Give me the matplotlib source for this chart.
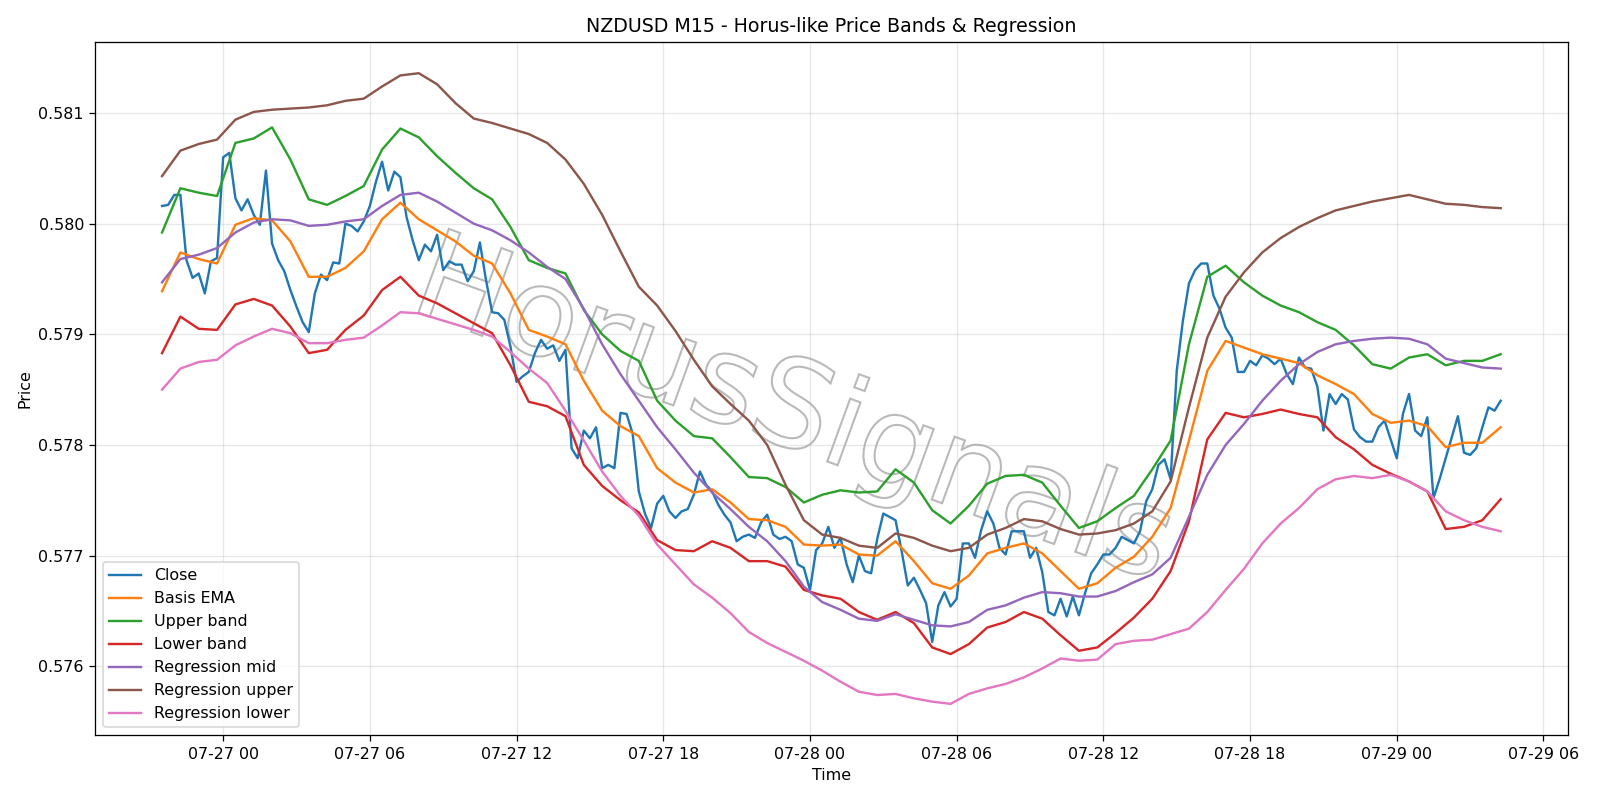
import pandas as pd
import matplotlib
matplotlib.use("Agg")
import matplotlib.pyplot as plt
import matplotlib.transforms as mtransforms
from matplotlib.textpath import TextPath
from matplotlib.patches import PathPatch
from matplotlib.font_manager import FontProperties

# NZDUSD M15 close, 2025-07-26 21:30 -> 2025-07-29 04:15
close = [
    0.58016, 0.58017, 0.58026, 0.58026, 0.57967, 0.57951, 0.57955, 0.57937, 0.57966, 0.57969,
    0.58060, 0.58064, 0.58023, 0.58012, 0.58022, 0.58008, 0.57999, 0.58048, 0.57982, 0.57967,
    0.57957, 0.57940, 0.57925, 0.57911, 0.57902, 0.57937, 0.57954, 0.57949, 0.57965, 0.57964,
    0.58000, 0.57998, 0.57993, 0.58002, 0.58016, 0.58038, 0.58056, 0.58030, 0.58047, 0.58042,
    0.58006, 0.57985, 0.57967, 0.57981, 0.57975, 0.57990, 0.57958, 0.57966, 0.57963, 0.57963,
    0.57948, 0.57957, 0.57983, 0.57949, 0.57920, 0.57919, 0.57913, 0.57889, 0.57857, 0.57862,
    0.57866, 0.57883, 0.57895, 0.57887, 0.57890, 0.57876, 0.57886, 0.57797, 0.57788, 0.57813,
    0.57806, 0.57816, 0.57779, 0.57782, 0.57779, 0.57829, 0.57828, 0.57810, 0.57758, 0.57738,
    0.57725, 0.57747, 0.57754, 0.57740, 0.57734, 0.57740, 0.57742, 0.57755, 0.57776, 0.57764,
    0.57758, 0.57746, 0.57737, 0.57730, 0.57713, 0.57717, 0.57719, 0.57716, 0.57730, 0.57737,
    0.57719, 0.57715, 0.57717, 0.57713, 0.57692, 0.57689, 0.57669, 0.57705, 0.57711, 0.57726,
    0.57707, 0.57716, 0.57692, 0.57676, 0.57700, 0.57686, 0.57684, 0.57715, 0.57738, 0.57735,
    0.57732, 0.57704, 0.57673, 0.57680, 0.57669, 0.57657, 0.57622, 0.57655, 0.57667, 0.57654,
    0.57661, 0.57711, 0.57711, 0.57698, 0.57723, 0.57740, 0.57729, 0.57707, 0.57701, 0.57722,
    0.57722, 0.57722, 0.57698, 0.57707, 0.57685, 0.57649, 0.57646, 0.57661, 0.57645, 0.57663,
    0.57646, 0.57666, 0.57684, 0.57692, 0.57701, 0.57701, 0.57707, 0.57717, 0.57714, 0.57711,
    0.57722, 0.57749, 0.57760, 0.57782, 0.57787, 0.57769, 0.57867, 0.57912, 0.57946, 0.57958,
    0.57964, 0.57964, 0.57935, 0.57923, 0.57906, 0.57897, 0.57866, 0.57866, 0.57876, 0.57872,
    0.57881, 0.57878, 0.57873, 0.57878, 0.57864, 0.57855, 0.57879, 0.57870, 0.57869, 0.57853,
    0.57813, 0.57846, 0.57837, 0.57846, 0.57841, 0.57814, 0.57807, 0.57803, 0.57803, 0.57816,
    0.57822, 0.57805, 0.57788, 0.57828, 0.57846, 0.57813, 0.57808, 0.57825, 0.57752, 0.57769,
    0.57788, 0.57807, 0.57826, 0.57793, 0.57791, 0.57797, 0.57816, 0.57834, 0.57831, 0.57840,
]

# band / regression lines, read every 3rd bar (45 min)
basis_ema = [
    0.57939, 0.57974, 0.57968, 0.57964, 0.57999, 0.58005, 0.58003, 0.57984, 0.57952, 0.57952, 0.57960,
    0.57975, 0.58004, 0.58019, 0.58004, 0.57994, 0.57984, 0.57971, 0.57964, 0.57937, 0.57904, 0.57898,
    0.57891, 0.57858, 0.57831, 0.57817, 0.57808, 0.57779, 0.57766, 0.57757, 0.57760, 0.57748,
    0.57733, 0.57732, 0.57726, 0.57710, 0.57709, 0.57710, 0.57701, 0.57700, 0.57713, 0.57695, 0.57675,
    0.57670, 0.57682, 0.57702, 0.57707, 0.57711, 0.57702, 0.57686, 0.57670, 0.57675, 0.57689, 0.57699,
    0.57717, 0.57743, 0.57804, 0.57867, 0.57894, 0.57888, 0.57882, 0.57878, 0.57874, 0.57863,
    0.57855, 0.57846, 0.57828, 0.57820, 0.57822, 0.57817, 0.57798, 0.57802, 0.57802, 0.57816,
]
upper_band = [
    0.57992, 0.58032, 0.58028, 0.58025, 0.58073, 0.58077, 0.58087, 0.58058, 0.58022, 0.58017, 0.58025,
    0.58034, 0.58067, 0.58086, 0.58078, 0.58061, 0.58046, 0.58032, 0.58022, 0.57997, 0.57967, 0.57960,
    0.57955, 0.57922, 0.57900, 0.57885, 0.57876, 0.57840, 0.57822, 0.57808, 0.57806, 0.57789,
    0.57771, 0.57770, 0.57762, 0.57748, 0.57755, 0.57759, 0.57757, 0.57758, 0.57778, 0.57766, 0.57741,
    0.57729, 0.57745, 0.57765, 0.57772, 0.57773, 0.57766, 0.57745, 0.57725, 0.57731, 0.57743, 0.57754,
    0.57778, 0.57804, 0.57891, 0.57952, 0.57962, 0.57947, 0.57935, 0.57926, 0.57920, 0.57911,
    0.57904, 0.57890, 0.57873, 0.57869, 0.57879, 0.57882, 0.57872, 0.57876, 0.57876, 0.57882,
]
lower_band = [
    0.57883, 0.57916, 0.57905, 0.57904, 0.57927, 0.57932, 0.57926, 0.57907, 0.57883, 0.57886, 0.57904,
    0.57917, 0.57940, 0.57952, 0.57935, 0.57928, 0.57919, 0.57910, 0.57901, 0.57872, 0.57839, 0.57835,
    0.57826, 0.57782, 0.57763, 0.57750, 0.57739, 0.57714, 0.57705, 0.57704, 0.57713, 0.57707,
    0.57695, 0.57695, 0.57690, 0.57669, 0.57664, 0.57661, 0.57649, 0.57642, 0.57649, 0.57639, 0.57617,
    0.57611, 0.57620, 0.57635, 0.57640, 0.57649, 0.57643, 0.57628, 0.57614, 0.57617, 0.57630, 0.57644,
    0.57661, 0.57686, 0.57731, 0.57805, 0.57829, 0.57825, 0.57828, 0.57832, 0.57828, 0.57825,
    0.57807, 0.57796, 0.57782, 0.57774, 0.57767, 0.57758, 0.57724, 0.57726, 0.57732, 0.57751,
]
reg_mid = [
    0.57947, 0.57968, 0.57972, 0.57978, 0.57992, 0.58001, 0.58004, 0.58003, 0.57998, 0.57999, 0.58002,
    0.58004, 0.58016, 0.58026, 0.58028, 0.58020, 0.58010, 0.58000, 0.57994, 0.57985, 0.57974, 0.57961,
    0.57950, 0.57923, 0.57891, 0.57864, 0.57840, 0.57816, 0.57796, 0.57775, 0.57757, 0.57742,
    0.57726, 0.57713, 0.57695, 0.57672, 0.57658, 0.57651, 0.57643, 0.57641, 0.57647, 0.57642, 0.57637,
    0.57636, 0.57640, 0.57651, 0.57655, 0.57662, 0.57667, 0.57666, 0.57663, 0.57663, 0.57668, 0.57676,
    0.57683, 0.57698, 0.57735, 0.57773, 0.57800, 0.57819, 0.57840, 0.57858, 0.57873, 0.57884,
    0.57891, 0.57894, 0.57896, 0.57897, 0.57896, 0.57891, 0.57878, 0.57874, 0.57870, 0.57869,
]
reg_upper = [
    0.58043, 0.58066, 0.58072, 0.58076, 0.58094, 0.58101, 0.58103, 0.58104, 0.58105, 0.58107, 0.58111,
    0.58113, 0.58124, 0.58134, 0.58136, 0.58126, 0.58109, 0.58095, 0.58091, 0.58086, 0.58081, 0.58073,
    0.58058, 0.58036, 0.58008, 0.57975, 0.57943, 0.57926, 0.57903, 0.57877, 0.57853, 0.57837,
    0.57822, 0.57800, 0.57764, 0.57732, 0.57719, 0.57716, 0.57709, 0.57707, 0.57720, 0.57716, 0.57709,
    0.57704, 0.57707, 0.57719, 0.57725, 0.57733, 0.57731, 0.57724, 0.57719, 0.57720, 0.57723, 0.57729,
    0.57740, 0.57767, 0.57834, 0.57897, 0.57934, 0.57956, 0.57974, 0.57987, 0.57997, 0.58005,
    0.58012, 0.58016, 0.58020, 0.58023, 0.58026, 0.58022, 0.58018, 0.58017, 0.58015, 0.58014,
]
reg_lower = [
    0.57850, 0.57869, 0.57875, 0.57877, 0.57890, 0.57898, 0.57905, 0.57901, 0.57892, 0.57892, 0.57895,
    0.57897, 0.57908, 0.57920, 0.57919, 0.57914, 0.57909, 0.57904, 0.57898, 0.57884, 0.57869, 0.57856,
    0.57831, 0.57804, 0.57776, 0.57754, 0.57736, 0.57710, 0.57692, 0.57674, 0.57662, 0.57648,
    0.57631, 0.57621, 0.57613, 0.57605, 0.57596, 0.57586, 0.57577, 0.57574, 0.57575, 0.57571, 0.57568,
    0.57566, 0.57575, 0.57580, 0.57584, 0.57590, 0.57598, 0.57607, 0.57605, 0.57606, 0.57620, 0.57623,
    0.57624, 0.57629, 0.57634, 0.57649, 0.57669, 0.57688, 0.57711, 0.57729, 0.57743, 0.57760,
    0.57769, 0.57772, 0.57770, 0.57773, 0.57767, 0.57758, 0.57740, 0.57732, 0.57726, 0.57722,
]


def add_watermark(fig, ax, text):
    # outlined, rotated watermark behind the lines
    tp = TextPath((0, 0), text, size=77, prop=FontProperties(family="DejaVu Sans"))
    bb = tp.get_extents()
    tr = (
        mtransforms.Affine2D()
        .translate(-(bb.x0 + bb.x1) / 2, -(bb.y0 + bb.y1) / 2)
        .rotate_deg(-20)
        .scale(1 / 72)
        + fig.dpi_scale_trans
        + mtransforms.ScaledTranslation(0.476, 0.463, ax.transAxes)
    )
    patch = PathPatch(tp, transform=tr, facecolor="none", edgecolor="#a8a8a8",
                      linewidth=1.3, alpha=0.8, zorder=0.5)
    patch.set_in_layout(False)
    ax.add_patch(patch)


def main():
    times = pd.date_range("2025-07-26 21:30", periods=len(close), freq="15min")
    t3 = times[::3]

    fig, ax = plt.subplots(figsize=(14, 7), dpi=800 / 7)

    ax.plot(times, close, label="Close")
    ax.plot(t3, basis_ema, label="Basis EMA")
    ax.plot(t3, upper_band, label="Upper band")
    ax.plot(t3, lower_band, label="Lower band")
    ax.plot(t3, reg_mid, label="Regression mid")
    ax.plot(t3, reg_upper, label="Regression upper")
    ax.plot(t3, reg_lower, label="Regression lower")

    add_watermark(fig, ax, "HorusSignals")

    ax.set_title("NZDUSD M15 - Horus-like Price Bands & Regression")
    ax.set_xlabel("Time")
    ax.set_ylabel("Price")
    ax.grid(True, alpha=0.3)
    ax.legend(loc="lower left")

    plt.tight_layout()
    plt.savefig("out.png", dpi=800 / 7)


main()
